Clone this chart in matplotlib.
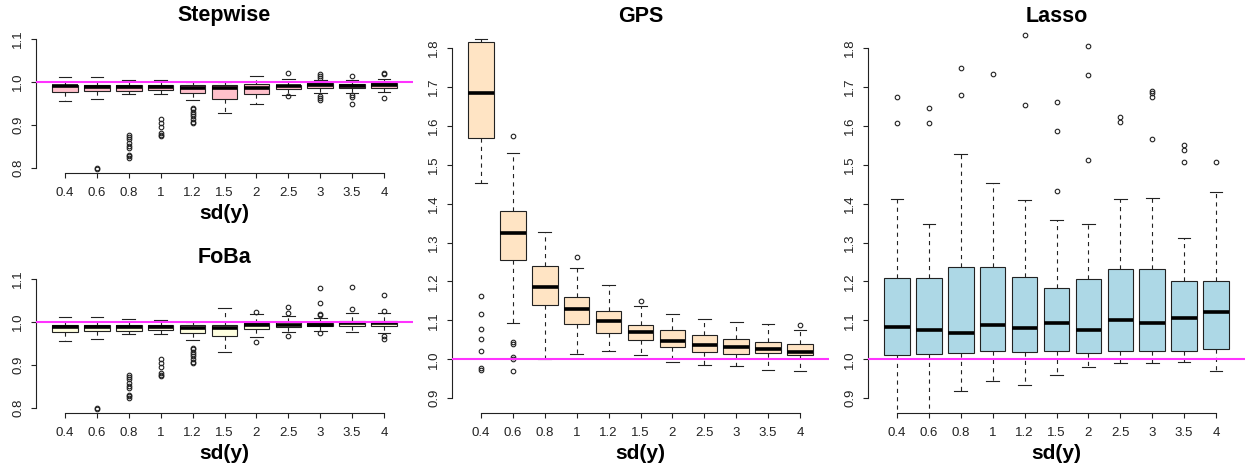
import matplotlib
matplotlib.use("Agg")
import matplotlib.pyplot as plt
import matplotlib.transforms as mtransforms

plt.rcParams['font.family'] = ['Liberation Sans', 'DejaVu Sans']
plt.rcParams['lines.scale_dashes'] = False

categories = ["0.4", "0.6", "0.8", "1", "1.2", "1.5", "2", "2.5", "3", "3.5", "4"]

# Stepwise
step_whislo = [0.956, 0.961, 0.973, 0.973, 0.958, 0.929, 0.950, 0.970, 0.974, 0.975, 0.976]
step_q1     = [0.976, 0.980, 0.980, 0.981, 0.975, 0.961, 0.973, 0.984, 0.987, 0.986, 0.987]
step_med    = [0.990, 0.988, 0.988, 0.988, 0.987, 0.985, 0.987, 0.990, 0.992, 0.991, 0.992]
step_q3     = [0.992, 0.994, 0.993, 0.993, 0.992, 0.992, 0.996, 0.994, 0.997, 0.996, 0.997]
step_whishi = [1.012, 1.012, 1.004, 1.004, 1.000, 1.000, 1.013, 1.008, 1.005, 1.004, 1.006]
step_fliers = [[], [0.800, 0.797],
               [0.876, 0.872, 0.868, 0.858, 0.850, 0.846, 0.830, 0.827, 0.824],
               [0.915, 0.905, 0.895, 0.882, 0.877, 0.874],
               [0.940, 0.937, 0.930, 0.925, 0.920, 0.913, 0.908, 0.904],
               [], [], [1.021, 0.968], [1.018, 1.013, 1.009, 0.968, 0.963, 0.958],
               [1.013, 0.969, 0.964, 0.950], [1.021, 1.019, 0.962]]

# FoBa
foba_whislo = [0.956, 0.961, 0.973, 0.973, 0.958, 0.930, 0.965, 0.977, 0.979, 0.976, 0.974]
foba_q1     = [0.976, 0.980, 0.980, 0.981, 0.975, 0.967, 0.984, 0.988, 0.990, 0.991, 0.991]
foba_med    = [0.988, 0.988, 0.988, 0.988, 0.986, 0.985, 0.992, 0.994, 0.994, 0.998, 0.997]
foba_q3     = [0.994, 0.994, 0.993, 0.993, 0.992, 0.993, 0.998, 0.999, 0.998, 1.002, 1.002]
foba_whishi = [1.012, 1.012, 1.006, 1.005, 1.000, 1.033, 1.019, 1.015, 1.009, 1.021, 1.021]
foba_fliers = [[], [0.800, 0.797],
               [0.876, 0.872, 0.868, 0.858, 0.850, 0.846, 0.830, 0.827, 0.824],
               [0.915, 0.905, 0.895, 0.882, 0.877, 0.874],
               [0.940, 0.937, 0.930, 0.925, 0.920, 0.913, 0.908, 0.904],
               [], [1.023, 0.953], [1.035, 1.021, 0.968],
               [1.080, 1.045, 1.018, 1.016, 0.975], [1.081, 1.030],
               [1.064, 1.025, 0.967, 0.961]]

# GPS
gps_whislo = [1.453, 1.093, 1.000, 1.014, 1.022, 1.011, 0.993, 0.985, 0.983, 0.973, 0.971]
gps_q1     = [1.570, 1.254, 1.140, 1.091, 1.067, 1.050, 1.031, 1.019, 1.014, 1.015, 1.010]
gps_med    = [1.684, 1.325, 1.186, 1.129, 1.099, 1.069, 1.048, 1.036, 1.032, 1.026, 1.020]
gps_q3     = [1.815, 1.381, 1.240, 1.159, 1.123, 1.087, 1.076, 1.062, 1.052, 1.045, 1.039]
gps_whishi = [1.823, 1.531, 1.327, 1.234, 1.190, 1.137, 1.116, 1.103, 1.097, 1.090, 1.075]
gps_fliers = [[1.163, 1.116, 1.078, 1.052, 1.022, 0.978, 0.973],
              [1.575, 1.044, 1.039, 1.005, 1.002, 0.971],
              [], [1.264], [], [1.151], [], [], [], [], [1.088]]

# Lasso
lasso_whislo = [0.850, 0.850, 0.919, 0.945, 0.933, 0.959, 0.981, 0.991, 0.990, 0.993, 0.970]
lasso_q1     = [1.012, 1.014, 1.017, 1.021, 1.019, 1.021, 1.015, 1.021, 1.021, 1.021, 1.027]
lasso_med    = [1.084, 1.075, 1.068, 1.087, 1.080, 1.093, 1.075, 1.102, 1.093, 1.105, 1.121]
lasso_q3     = [1.208, 1.208, 1.237, 1.237, 1.211, 1.183, 1.206, 1.233, 1.233, 1.201, 1.201]
lasso_whishi = [1.413, 1.349, 1.528, 1.452, 1.410, 1.359, 1.349, 1.411, 1.415, 1.311, 1.430]
lasso_fliers = [[1.674, 1.608], [1.646, 1.608], [1.748, 1.679], [1.732],
                [1.833, 1.654], [1.662, 1.588, 1.433], [1.805, 1.731, 1.511],
                [1.622, 1.609], [1.690, 1.684, 1.674, 1.566],
                [1.551, 1.539, 1.508], [1.508]]

W, H = 1249, 469
fig = plt.figure(figsize=(W / 100, H / 100), dpi=100)


def make_ax(left, right, top, bottom):
    return fig.add_axes([left / W, 1 - bottom / H, (right - left) / W, (bottom - top) / H])


def panel(ax, title, color, lo, q1, med, q3, hi, fl, ylim, ybounds, yticks, title_off):
    stats = []
    for i in range(len(categories)):
        stats.append(dict(whislo=lo[i], q1=q1[i], med=med[i], q3=q3[i],
                          whishi=hi[i], fliers=fl[i], label=categories[i]))
    pos = list(range(1, len(categories) + 1))
    res = ax.bxp(stats, positions=pos, widths=0.8, capwidths=0.4, patch_artist=True,
                 showfliers=True,
                 boxprops=dict(facecolor=color, edgecolor='#222222', linewidth=0.8),
                 medianprops=dict(color='black', linewidth=2.6, solid_capstyle='butt'),
                 whiskerprops=dict(color='#222222', linewidth=0.8, linestyle=(0, (3, 3))),
                 capprops=dict(color='#222222', linewidth=0.8),
                 flierprops=dict(marker='o', markersize=3.3, markerfacecolor='none',
                                 markeredgecolor='#222222', markeredgewidth=0.8,
                                 linestyle='none'))
    for f in res['fliers']:
        f.set_clip_on(False)
    ax.axhline(1.0, color='#FF33FF', linewidth=1.5, zorder=5)
    ax.set_xlim(0.09, 11.91)
    ax.set_ylim(*ylim)
    ax.set_yticks(yticks)
    ax.set_yticklabels([f"{t:.1f}" for t in yticks])
    ax.set_xticks(pos)
    ax.set_xticklabels(categories)
    for s in ['top', 'right']:
        ax.spines[s].set_visible(False)
    ax.spines['left'].set_bounds(*ybounds)
    ax.spines['bottom'].set_bounds(1, len(categories))
    for s in ['left', 'bottom']:
        ax.spines[s].set_linewidth(0.8)
        ax.spines[s].set_color('#222222')
    ax.tick_params(axis='both', length=3.6, width=0.8, color='#222222',
                   labelsize=9.5, labelcolor='#222222')
    ax.tick_params(axis='x', pad=6.5)
    ax.tick_params(axis='y', pad=5)
    for lab in ax.get_yticklabels():
        lab.set_rotation(90)
        lab.set_va('center')
    ttrans = mtransforms.offset_copy(ax.transAxes, fig=fig, y=title_off, units='dots')
    ax.text(0.5, 1.0, title, transform=ttrans, ha='center', va='center',
            fontsize=15.5, fontweight='bold')
    ltrans = mtransforms.offset_copy(ax.transAxes, fig=fig, y=-40, units='dots')
    ax.text(0.5, 0.0, "sd(y)", transform=ltrans, ha='center', va='center',
            fontsize=15, fontweight='bold')


ax1 = make_ax(36, 413, 34, 173)
panel(ax1, "Stepwise", "#FFC0CB", step_whislo, step_q1, step_med, step_q3,
      step_whishi, step_fliers, (0.788, 1.112), (0.8, 1.1), [0.8, 0.9, 1.0, 1.1], 18)

ax2 = make_ax(36, 413, 274, 413)
panel(ax2, "FoBa", "#FFFFE0", foba_whislo, foba_q1, foba_med, foba_q3,
      foba_whishi, foba_fliers, (0.788, 1.112), (0.8, 1.1), [0.8, 0.9, 1.0, 1.1], 17)

ax3 = make_ax(452, 829, 34, 413)
panel(ax3, "GPS", "#FFE4C4", gps_whislo, gps_q1, gps_med, gps_q3,
      gps_whishi, gps_fliers, (0.862, 1.836), (0.9, 1.8),
      [0.9, 1.0, 1.1, 1.2, 1.3, 1.4, 1.5, 1.6, 1.7, 1.8], 18)

ax4 = make_ax(868, 1245, 34, 413)
panel(ax4, "Lasso", "#ADD8E6", lasso_whislo, lasso_q1, lasso_med, lasso_q3,
      lasso_whishi, lasso_fliers, (0.862, 1.836), (0.9, 1.8),
      [0.9, 1.0, 1.1, 1.2, 1.3, 1.4, 1.5, 1.6, 1.7, 1.8], 18)

fig.savefig("out.png", dpi=100)
